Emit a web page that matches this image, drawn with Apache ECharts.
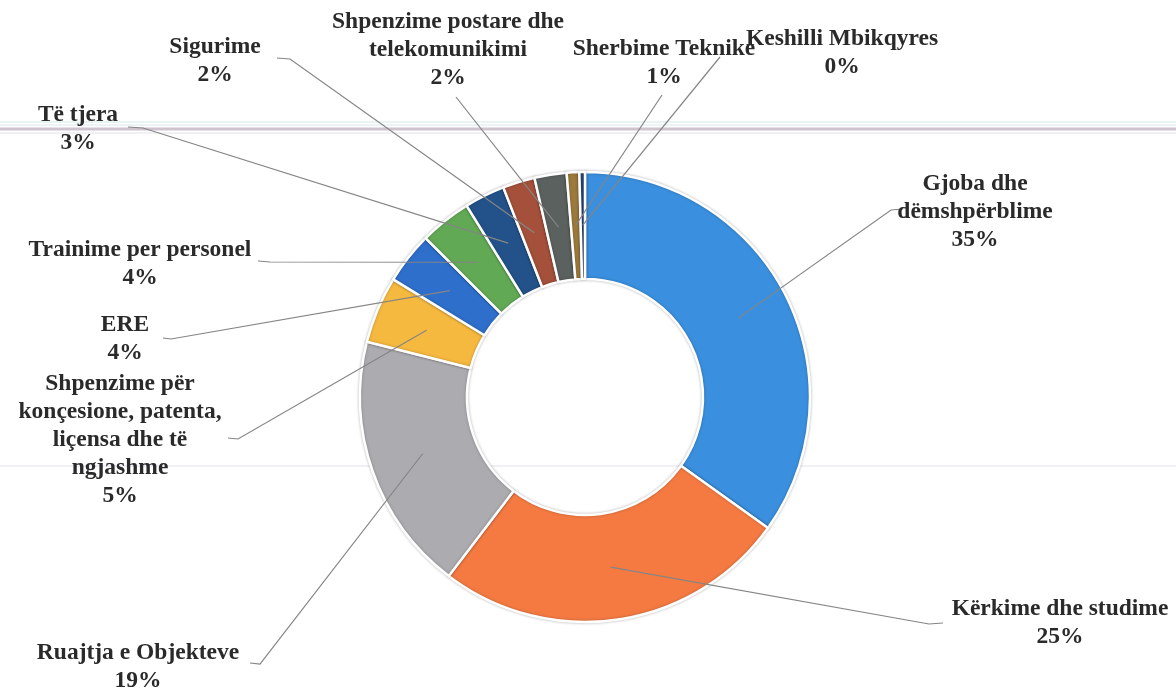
<!DOCTYPE html>
<html>
<head>
<meta charset="utf-8">
<script src="https://cdn.jsdelivr.net/npm/echarts@6/dist/echarts.min.js"></script>
<style>
html,body{margin:0;padding:0;background:#fff;}
#chart{width:1176px;height:688px;}
</style>
</head>
<body>
<div id="chart"></div>
<script>
// ---- data ----
var categories = [
  'Gjoba dhe\ndëmshpërblime',
  'Kërkime dhe studime',
  'Ruajtja e Objekteve',
  'Shpenzime për\nkonçesione, patenta,\nliçensa dhe të\nngjashme',
  'ERE',
  'Trainime per personel',
  'Të tjera',
  'Sigurime',
  'Shpenzime postare dhe\ntelekomunikimi',
  'Sherbime Teknike',
  'Keshilli Mbikqyres'
];
var values = [34.8, 25.4, 18.55, 4.8, 3.7, 3.7, 2.9, 2.3, 2.3, 0.9, 0.4];
var colors = ['#3a8fde', '#f47a42', '#acacb0', '#f6b93f', '#2e6fcb', '#62a955',
              '#23528a', '#a4503a', '#5b615f', '#9c7a3c', '#264478'];

// ---- label layout (text placement, not data) ----
var labelSpots = [
  {x: 975, y: 212, ex: 903, ey: 209, hook: -12},
  {x: 1060, y: 623, ex: 943, ey: 623, hook: -14},
  {x: 138, y: 667, ex: 250, ey: 663, hook: 10},
  {x: 120, y: 440, ex: 228, ey: 438, hook: 10},
  {x: 125, y: 339, ex: 163, ey: 338, hook: 8},
  {x: 140, y: 264, ex: 258, ey: 261, hook: 12},
  {x: 78, y: 129, ex: 128, ey: 127, hook: 15},
  {x: 215, y: 61, ex: 277, ey: 58, hook: 13},
  {x: 448, y: 50, ex: 456, ey: 97, hook: 0},
  {x: 664, y: 63, ex: 662, ey: 95, hook: 0},
  {x: 842, y: 53, ex: 720, ey: 57, hook: 0}
];

var total = values.reduce(function (a, b) { return a + b; }, 0);
var pieData = categories.map(function (c, i) {
  return {name: c, value: values[i], itemStyle: {color: colors[i]}};
});
var labelData = categories.map(function (c, i) {
  return {name: c, value: values[i]};
});

var CENTER = [585, 397];

var chart = echarts.init(document.getElementById('chart'));
chart.setOption({
  backgroundColor: '#ffffff',
  animation: false,
  graphic: [
    {type: 'line', z: -1, shape: {x1: 0, y1: 122, x2: 1176, y2: 122}, style: {stroke: '#d3e8e6', lineWidth: 1}},
    {type: 'line', z: -1, shape: {x1: 0, y1: 125, x2: 1176, y2: 125}, style: {stroke: '#d8e9ea', lineWidth: 1}},
    {type: 'line', z: -1, shape: {x1: 0, y1: 129, x2: 1176, y2: 129}, style: {stroke: '#cdc4cf', lineWidth: 3}},
    {type: 'line', z: -1, shape: {x1: 0, y1: 133, x2: 1176, y2: 133}, style: {stroke: '#e4e0ea', lineWidth: 1}},
    {type: 'line', z: -1, shape: {x1: 0, y1: 466, x2: 1176, y2: 466}, style: {stroke: '#dfe2ec', lineWidth: 1}}
  ],
  series: [
    {
      type: 'pie',
      center: CENTER,
      radius: [118, 225],
      startAngle: 90,
      clockwise: true,
      silent: true,
      avoidLabelOverlap: false,
      label: {show: false},
      labelLine: {show: false},
      itemStyle: {
        borderColor: '#ffffff',
        borderWidth: 2.5,
        shadowBlur: 3,
        shadowColor: 'rgba(0,0,0,0.25)'
      },
      emphasis: {disabled: true},
      data: pieData,
      z: 2
    },
    {
      type: 'pie',
      center: CENTER,
      radius: [0, 172],
      startAngle: 90,
      clockwise: true,
      silent: true,
      avoidLabelOverlap: false,
      itemStyle: {color: 'rgba(0,0,0,0)', borderWidth: 0},
      emphasis: {disabled: true},
      label: {
        show: true,
        position: 'outside',
        fontFamily: '"Liberation Serif", "Times New Roman", serif',
        fontWeight: 'bold',
        fontSize: 23.5,
        lineHeight: 28,
        color: '#2a2a2a',
        align: 'center',
        formatter: function (p) {
          return p.name + '\n' + Math.round(p.value / total * 100) + '%';
        }
      },
      labelLine: {
        show: true,
        length: 10,
        length2: 10,
        lineStyle: {color: '#858585', width: 1.2}
      },
      labelLayout: function (params) {
        var s = labelSpots[params.dataIndex];
        var pts = params.labelLinePoints;
        var res = {x: s.x, y: s.y, align: 'center', verticalAlign: 'middle'};
        if (pts && pts.length) {
          var a = [pts[0][0], pts[0][1]];
          res.labelLinePoints = s.hook
            ? [a, [s.ex + s.hook, s.ey + 1], [s.ex, s.ey]]
            : [a, [s.ex, s.ey]];
        }
        return res;
      },
      data: labelData,
      z: 3
    }
  ]
});
</script>
</body>
</html>
